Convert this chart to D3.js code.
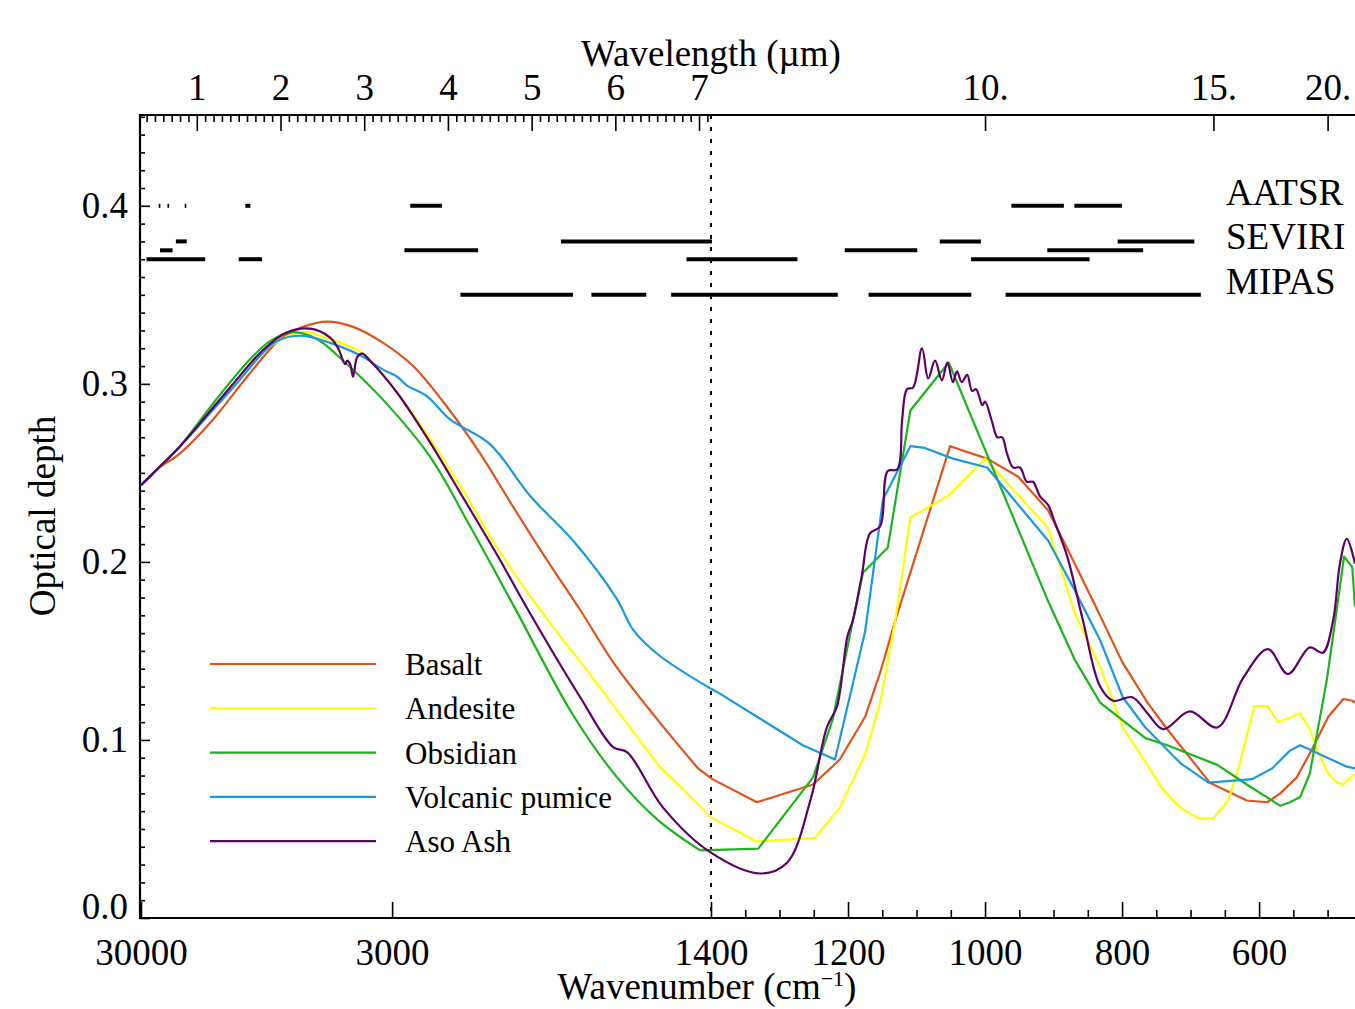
<!DOCTYPE html>
<html>
<head>
<meta charset="utf-8">
<script src="https://cdn.jsdelivr.net/npm/d3@7"></script>
<style>
  body { margin: 0; background: #fff; }
  text { font-family: "Liberation Serif", "Times New Roman", serif; fill: #000; }
</style>
</head>
<body>
<div id="chart"></div>
<script>
// optical depth vs wavenumber (cm-1), one [wn, tau] list per ash type
const basalt = [[30000,0.243],[19020,0.252],[12490,0.261],[8370,0.280],[6246,0.304],[5012,0.325],[4405,0.332],[3911,0.335],[3488,0.332],[3100,0.323],[2790,0.310],[2506,0.287],[2281,0.261],[2093,0.231],[1929,0.201],[1792,0.173],[1667,0.142],[1536,0.111],[1431,0.084],[1398,0.078],[1333,0.065],[1251,0.075],[1212,0.089],[1175,0.113],[1153,0.138],[1131,0.167],[1051,0.265],[997,0.258],[952,0.248],[908,0.229],[869,0.199],[836,0.173],[800,0.144],[763,0.121],[734,0.106],[672,0.076],[618,0.066],[588,0.065],[569,0.070],[545,0.079],[521,0.096],[499,0.113],[477,0.123],[464,0.122],[460,0.121]];
const andesite = [[30000,0.243],[19020,0.252],[12490,0.265],[7154,0.297],[5331,0.321],[4405,0.329],[3857,0.325],[3348,0.317],[2989,0.298],[2640,0.269],[2391,0.240],[2180,0.208],[1924,0.167],[1792,0.144],[1536,0.086],[1398,0.056],[1333,0.043],[1248,0.045],[1212,0.062],[1175,0.092],[1153,0.121],[1131,0.167],[1109,0.225],[1054,0.237],[1000,0.258],[908,0.219],[869,0.171],[832,0.141],[799,0.107],[763,0.086],[740,0.072],[715,0.062],[689,0.056],[667,0.056],[645,0.066],[628,0.087],[607,0.119],[588,0.119],[572,0.110],[540,0.115],[526,0.106],[515,0.094],[499,0.081],[486,0.076],[477,0.075],[460,0.081]];
const obsidian = [[30000,0.243],[19020,0.252],[12490,0.265],[8370,0.289],[6246,0.312],[5331,0.324],[4650,0.329],[4103,0.325],[3639,0.313],[3100,0.291],[2640,0.259],[2345,0.220],[2093,0.176],[1820,0.114],[1661,0.079],[1536,0.055],[1426,0.038],[1331,0.039],[1251,0.079],[1222,0.112],[1193,0.167],[1178,0.194],[1142,0.208],[1109,0.285],[1053,0.312],[908,0.178],[869,0.145],[832,0.121],[766,0.101],[734,0.097],[661,0.086],[618,0.075],[569,0.063],[555,0.065],[540,0.068],[526,0.081],[501,0.134],[486,0.175],[476,0.203],[464,0.197],[460,0.175]];
const pumice = [[30000,0.243],[19020,0.252],[12490,0.265],[7154,0.296],[5104,0.324],[4405,0.327],[3857,0.323],[3389,0.316],[3100,0.308],[2947,0.304],[2847,0.299],[2666,0.293],[2484,0.280],[2220,0.266],[2007,0.237],[1820,0.212],[1661,0.179],[1610,0.162],[1536,0.148],[1402,0.129],[1387,0.126],[1266,0.097],[1219,0.089],[1175,0.161],[1149,0.235],[1109,0.265],[1088,0.264],[1047,0.258],[997,0.253],[908,0.212],[869,0.184],[832,0.156],[799,0.124],[766,0.107],[715,0.087],[674,0.076],[610,0.078],[581,0.084],[555,0.094],[540,0.097],[472,0.085],[460,0.084]];
const asoAsh = [[30000,0.243],[19020,0.252],[12490,0.265],[7154,0.298],[5580,0.319],[4810,0.329],[4249,0.331],[3857,0.326],[3720,0.320],[3608,0.311],[3577,0.313],[3531,0.311],[3488,0.304],[3430,0.315],[3361,0.317],[3257,0.313],[2947,0.295],[2640,0.267],[2391,0.236],[2180,0.204],[2022,0.174],[1792,0.124],[1674,0.096],[1628,0.093],[1522,0.062],[1402,0.037],[1328,0.025],[1289,0.031],[1255,0.066],[1231,0.107],[1216,0.119],[1201,0.158],[1193,0.167],[1180,0.192],[1168,0.216],[1153,0.220],[1142,0.251],[1128,0.252],[1121,0.280],[1114,0.297],[1105,0.298],[1092,0.320],[1083,0.303],[1073,0.313],[1063,0.302],[1055,0.312],[1047,0.301],[1041,0.307],[1034,0.301],[1026,0.305],[1019,0.296],[1013,0.297],[1004,0.288],[1000,0.290],[990,0.279],[982,0.270],[975,0.270],[968,0.261],[959,0.253],[949,0.253],[939,0.245],[930,0.245],[920,0.237],[908,0.232],[898,0.222],[880,0.203],[857,0.167],[832,0.130],[813,0.122],[785,0.124],[763,0.115],[740,0.106],[701,0.116],[661,0.107],[623,0.135],[587,0.151],[558,0.137],[526,0.152],[507,0.149],[492,0.167],[482,0.199],[472,0.213],[460,0.199]];

const seriesNames = ["Basalt", "Andesite", "Obsidian", "Volcanic pumice", "Aso Ash"];
const seriesColors = ["#e2531c", "#ffff00", "#1bb41b", "#1a9ade", "#5e0068"];
const seriesData = [basalt, andesite, obsidian, pumice, asoAsh];

// instrument channels: [from, to] in micrometres (MIPAS in cm-1)
const aatsrBands = [[0.545,0.565],[0.649,0.669],[0.855,0.875],[1.58,1.64],[3.55,3.93],[10.4,11.3],[11.5,12.5]];
const seviriBandsA = [[0.75,0.88],[5.35,7.15],[9.38,9.94],[12.4,14.4]];
const seviriBandsB = [[0.56,0.71],[3.48,4.36],[8.3,9.1],[11.0,13.0]];
const seviriBandsC = [[0.4,1.1],[1.5,1.78],[6.85,7.85],[9.8,11.8]];
const mipasBandsCm = [[2410,1820],[1750,1570],[1500,1215],[1170,1020],[970,685]];

const yTicks = [0, 0.1, 0.2, 0.3, 0.4];
const topTicksLeft = [1, 2, 3, 4, 5, 6, 7];
const topTicksRight = [10, 15, 20];
const bottomTicksLeft = [30000, 3000];
const bottomTicksRight = [1400, 1200, 1000, 800, 600];

const W = 1355, H = 1009;
const m = { left: 140, right: 1355, top: 115, bottom: 918 };

const svg = d3.select('#chart').append('svg')
  .attr('width', W).attr('height', H);

// left part linear in wavelength, right part linear in wavenumber
const xL = d3.scaleLinear().domain([1e4 / 30000, 1e4 / 1400]).range([141, 711]);
const xR = d3.scaleLinear().domain([1400, 460]).range([711, 1355]);
function x(wn) { return wn >= 1400 ? xL(1e4 / wn) : xR(wn); }
const y = d3.scaleLinear().domain([0, 0.451]).range([m.bottom, m.top]);

svg.append('clipPath').attr('id', 'plot')
  .append('rect').attr('x', m.left).attr('y', m.top).attr('width', m.right - m.left).attr('height', m.bottom - m.top);

function styleAxis(g) {
  g.select('.domain').remove();
  g.selectAll('line').attr('stroke', '#000').attr('stroke-width', 1.6);
  g.selectAll('text').attr('fill', '#000').style('font-family', '"Liberation Serif", serif');
}

// bottom axis
svg.append('g').attr('transform', `translate(0,${m.bottom})`)
  .call(d3.axisBottom(xL).tickValues(bottomTicksLeft.map(d => 1e4 / d))
    .tickFormat(l => Math.round(1e4 / l)).tickSize(-16).tickPadding(21))
  .call(styleAxis).selectAll('text').style('font-size', '37px');
svg.append('g').attr('transform', `translate(0,${m.bottom})`)
  .call(d3.axisBottom(xR).tickValues(bottomTicksRight).tickFormat(d3.format('d')).tickSize(-16).tickPadding(21))
  .call(styleAxis).selectAll('text').style('font-size', '37px');
svg.append('g').attr('transform', `translate(0,${m.bottom})`)
  .call(d3.axisBottom(xR).tickValues(d3.range(1350, 459, -50).filter(d => d % 200 !== 0)).tickFormat('').tickSize(-8))
  .call(styleAxis);

// top axis (wavelength)
svg.append('g').attr('transform', `translate(0,${m.top})`)
  .call(d3.axisTop(xL).tickValues(topTicksLeft).tickFormat(d3.format('d')).tickSize(-16).tickPadding(15))
  .call(styleAxis).selectAll('text').style('font-size', '37px');
svg.append('g').attr('transform', `translate(0,${m.top})`)
  .call(d3.axisTop(xL).tickValues(d3.range(4, 72).filter(i => i % 10 !== 0).map(i => i / 10)).tickFormat('').tickSize(-7))
  .call(styleAxis);
svg.append('g').attr('transform', `translate(0,${m.top})`)
  .call(d3.axisTop(xR).tickValues(topTicksRight.map(l => 1e4 / l)).tickFormat(w => Math.round(1e4 / w) + '.').tickSize(-16).tickPadding(15))
  .call(styleAxis).selectAll('text').style('font-size', '37px');

// y axis
const yAxis = svg.append('g').attr('transform', `translate(${m.left},0)`)
  .call(d3.axisLeft(y).tickValues(yTicks).tickFormat(d3.format('.1f')).tickSize(-10).tickPadding(12))
  .call(styleAxis);
yAxis.selectAll('text').style('font-size', '37px');
yAxis.selectAll('.tick').filter(d => d === 0).select('text').attr('y', -11);
svg.append('g').attr('transform', `translate(${m.left},0)`)
  .call(d3.axisLeft(y).tickValues(d3.range(1, 46).filter(i => i % 10 !== 0).map(i => i / 100)).tickFormat('').tickSize(-5))
  .call(styleAxis);

// frame
svg.append('path')
  .attr('d', `M${m.right},${m.top}H${m.left}V${m.bottom}H${m.right}`)
  .attr('fill', 'none').attr('stroke', '#000').attr('stroke-width', 2.2);

// 1400 cm-1 divider
svg.append('line')
  .attr('x1', x(1400)).attr('x2', x(1400)).attr('y1', m.top).attr('y2', m.bottom)
  .attr('stroke', '#000').attr('stroke-width', 2).attr('stroke-dasharray', '4,8');

// instrument bands
const bandRows = [
  { bands: aatsrBands.map(b => [1e4 / b[0], 1e4 / b[1]]), level: 0.40 },
  { bands: seviriBandsA.map(b => [1e4 / b[0], 1e4 / b[1]]), level: 0.38 },
  { bands: seviriBandsB.map(b => [1e4 / b[0], 1e4 / b[1]]), level: 0.375 },
  { bands: seviriBandsC.map(b => [1e4 / b[0], 1e4 / b[1]]), level: 0.37 },
  { bands: mipasBandsCm, level: 0.35 }
];
bandRows.forEach(row => {
  svg.append('g').selectAll('line').data(row.bands).enter().append('line')
    .attr('x1', d => x(d[0])).attr('x2', d => x(d[1]))
    .attr('y1', y(row.level)).attr('y2', y(row.level))
    .attr('stroke', '#000').attr('stroke-width', 4);
});
const instLabels = [['AATSR', 0.40], ['SEVIRI', 0.375], ['MIPAS', 0.35]];
svg.append('g').selectAll('text').data(instLabels).enter().append('text')
  .attr('x', 1226).attr('y', d => y(d[1]) - 1)
  .style('font-size', '37px').text(d => d[0]);

// curves
const line = d3.line().x(d => x(d[0])).y(d => y(d[1]));
const curves = svg.append('g').attr('clip-path', 'url(#plot)');
seriesData.forEach((data, i) => {
  const stroke = seriesColors[i];
  if (i === 4) {
    curves.append('path').attr('d', line.curve(d3.curveCatmullRom.alpha(0.5))(data))
      .attr('fill', 'none').attr('stroke', stroke).attr('stroke-width', 2.2);
    return;
  }
  const k = data.findIndex(d => d[0] < 1400);
  const leftPart = data.slice(0, k), rightPart = data.slice(k - 1);
  curves.append('path').attr('d', line.curve(d3.curveCatmullRom.alpha(0.5))(leftPart))
    .attr('fill', 'none').attr('stroke', stroke).attr('stroke-width', 2.2);
  curves.append('path').attr('d', line.curve(d3.curveLinear)(rightPart))
    .attr('fill', 'none').attr('stroke', stroke).attr('stroke-width', 2.2)
    .attr('stroke-linejoin', 'round');
});

// legend
const legend = svg.append('g').selectAll('g').data(seriesNames).enter().append('g')
  .attr('transform', (d, i) => `translate(210,${664 + i * 44.3})`);
legend.append('line').attr('x1', 0).attr('x2', 166)
  .attr('stroke', (d, i) => seriesColors[i]).attr('stroke-width', 2.2);
legend.append('text').attr('x', 195).attr('y', 11)
  .style('font-size', '31px').text(d => d);

// axis titles
svg.append('text').attr('x', 711).attr('y', 66).attr('text-anchor', 'middle')
  .style('font-size', '37px').text('Wavelength (\u00b5m)');
const xt = svg.append('text').attr('x', 707).attr('y', 999).attr('text-anchor', 'middle')
  .style('font-size', '37px');
xt.append('tspan').text('Wavenumber (cm');
xt.append('tspan').attr('dy', -13).style('font-size', '22px').text('\u22121');
xt.append('tspan').attr('dy', 13).text(')');
svg.append('text').attr('transform', 'translate(55,516) rotate(-90)').attr('text-anchor', 'middle')
  .style('font-size', '37px').text('Optical depth');
</script>
</body>
</html>
